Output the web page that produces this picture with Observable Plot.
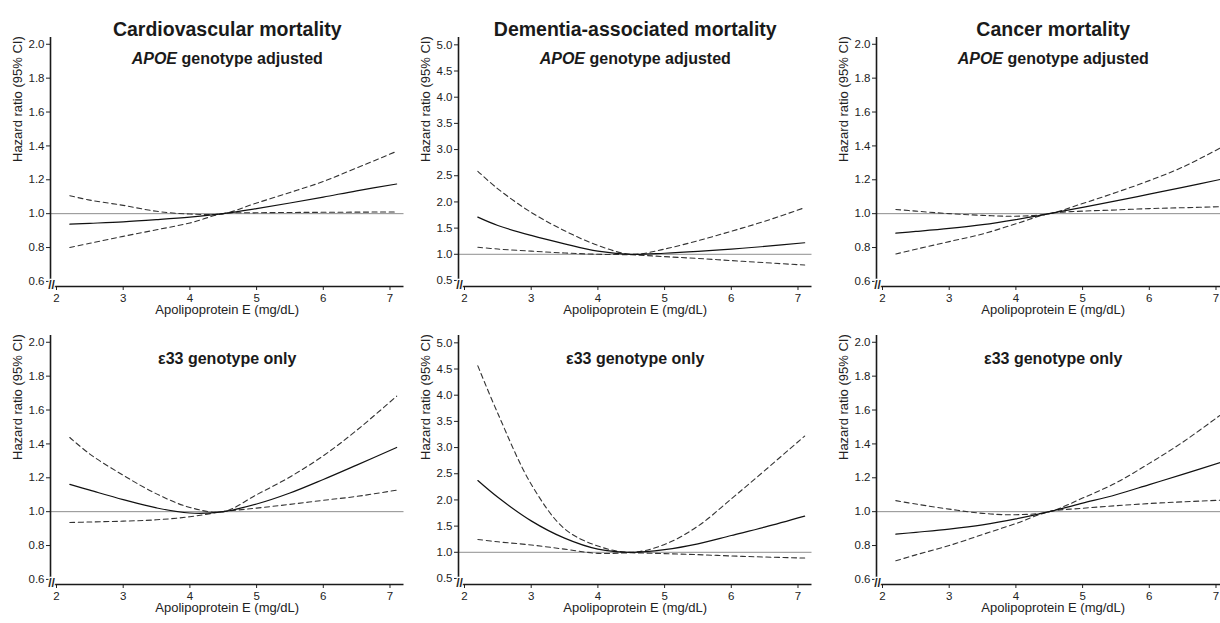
<!DOCTYPE html>
<html>
<head>
<meta charset="utf-8">
<script src="https://cdn.jsdelivr.net/npm/d3@7"></script>
<script src="https://cdn.jsdelivr.net/npm/@observablehq/plot@0.6"></script>
<style>
  html, body { margin: 0; padding: 0; background: #fff; }
  body { width: 1220px; height: 623px; overflow: hidden; position: relative;
         font-family: "Liberation Sans", Arial, sans-serif; }
  .panel { position: absolute; width: 410px; height: 322px; }
  .panel svg { overflow: visible; max-width: none !important; width: 410px !important; height: 322px !important; }
</style>
</head>
<body>
<div id="root"></div>
<script>
// ---------- data ----------
const apoE = [2.2, 2.5, 3, 3.5, 4, 4.5, 5, 5.5, 6, 6.5, 7.1];

// Cardiovascular mortality, APOE genotype adjusted
const cvAdjHR = [0.938, 0.943, 0.952, 0.965, 0.980, 1.0, 1.030, 1.063, 1.098, 1.135, 1.175];
const cvAdjLo = [0.800, 0.825, 0.866, 0.905, 0.945, 1.0, 1.005, 1.007, 1.008, 1.009, 1.010];
const cvAdjHi = [1.106, 1.080, 1.049, 1.014, 0.998, 1.0, 1.063, 1.125, 1.190, 1.270, 1.368];

// Dementia-associated mortality, APOE genotype adjusted
const demAdjHR = [1.71, 1.55, 1.36, 1.20, 1.06, 1.0, 1.02, 1.055, 1.10, 1.15, 1.22];
const demAdjLo = [1.135, 1.10, 1.06, 1.025, 1.0, 0.99, 0.955, 0.92, 0.88, 0.84, 0.795];
const demAdjHi = [2.585, 2.25, 1.80, 1.45, 1.17, 1.0, 1.10, 1.26, 1.44, 1.63, 1.89];

// Cancer mortality, APOE genotype adjusted
const canAdjHR = [0.885, 0.895, 0.913, 0.935, 0.965, 1.0, 1.037, 1.075, 1.115, 1.155, 1.205];
const canAdjLo = [0.762, 0.790, 0.835, 0.880, 0.940, 1.0, 1.015, 1.022, 1.030, 1.035, 1.042];
const canAdjHi = [1.025, 1.015, 1.000, 0.990, 0.985, 1.0, 1.060, 1.125, 1.195, 1.275, 1.395];

// Cardiovascular mortality, e33 genotype only
const cv33HR = [1.161, 1.127, 1.071, 1.022, 0.992, 1.0, 1.045, 1.110, 1.190, 1.275, 1.379];
const cv33Lo = [0.936, 0.939, 0.944, 0.952, 0.970, 1.0, 1.021, 1.043, 1.067, 1.090, 1.127];
const cv33Hi = [1.438, 1.340, 1.215, 1.105, 1.025, 1.0, 1.100, 1.205, 1.330, 1.480, 1.682];

// Dementia-associated mortality, e33 genotype only
const dem33HR = [2.37, 2.05, 1.60, 1.27, 1.06, 1.0, 1.05, 1.16, 1.32, 1.48, 1.69];
const dem33Lo = [1.245, 1.20, 1.14, 1.06, 0.98, 0.99, 0.975, 0.955, 0.93, 0.91, 0.89];
const dem33Hi = [4.56, 3.65, 2.30, 1.45, 1.12, 1.0, 1.15, 1.50, 2.02, 2.56, 3.22];

// Cancer mortality, e33 genotype only
const can33HR = [0.867, 0.878, 0.897, 0.922, 0.957, 1.0, 1.050, 1.100, 1.160, 1.220, 1.295];
const can33Lo = [0.710, 0.745, 0.800, 0.865, 0.930, 1.0, 1.020, 1.035, 1.048, 1.058, 1.068];
const can33Hi = [1.065, 1.045, 1.015, 0.990, 0.982, 1.0, 1.080, 1.170, 1.285, 1.410, 1.580];

const colTitles = ["Cardiovascular mortality", "Dementia-associated mortality", "Cancer mortality"];
const rowSubtitles = ["APOE genotype adjusted", "ε33 genotype only"];
const xTicks = [2, 3, 4, 5, 6, 7];
const yTicksNarrow = [0.6, 0.8, 1.0, 1.2, 1.4, 1.6, 1.8, 2.0];
const yTicksWide = [0.5, 1.0, 1.5, 2.0, 2.5, 3.0, 3.5, 4.0, 4.5, 5.0];
const yDomainNarrow = [0.57, 2.04];
const yDomainWide = [0.385, 5.14];
const xDomain = [1.91, 7.21];
const xLabel = "Apolipoprotein E (mg/dL)";
const yLabel = "Hazard ratio (95% CI)";
const refHR = [1];

// ---------- layout ----------
const colLeft = [0, 408, 826];
const rowTop = [0, 298];

const panels = [
  {row: 0, col: 0, hr: cvAdjHR, lo: cvAdjLo, hi: cvAdjHi, wide: false},
  {row: 0, col: 1, hr: demAdjHR, lo: demAdjLo, hi: demAdjHi, wide: true},
  {row: 0, col: 2, hr: canAdjHR, lo: canAdjLo, hi: canAdjHi, wide: false},
  {row: 1, col: 0, hr: cv33HR, lo: cv33Lo, hi: cv33Hi, wide: false},
  {row: 1, col: 1, hr: dem33HR, lo: dem33Lo, hi: dem33Hi, wide: true},
  {row: 1, col: 2, hr: can33HR, lo: can33Lo, hi: can33Hi, wide: false}
];

const toRows = arr => apoE.map((x, i) => ({x, y: arr[i]}));
const font = "Liberation Sans, Arial, sans-serif";

for (const p of panels) {
  const yDomain = p.wide ? yDomainWide : yDomainNarrow;
  const yTicks = p.wide ? yTicksWide : yTicksNarrow;
  const marks = [
    Plot.ruleY(refHR, {stroke: "#8e8e8e", strokeWidth: 1}),
    Plot.line(toRows(p.lo), {x: "x", y: "y", stroke: "#333", strokeWidth: 1.1, strokeDasharray: "5,3.5", curve: "catmull-rom"}),
    Plot.line(toRows(p.hi), {x: "x", y: "y", stroke: "#333", strokeWidth: 1.1, strokeDasharray: "5,3.5", curve: "catmull-rom"}),
    Plot.line(toRows(p.hr), {x: "x", y: "y", stroke: "#111", strokeWidth: 1.2, curve: "catmull-rom"}),
    Plot.axisX({ticks: xTicks, tickFormat: d3.format("d"), tickSize: 4, tickPadding: 3, label: null, fontSize: 11.5, stroke: "#222"}),
    Plot.axisY({ticks: yTicks, tickFormat: d3.format(".1f"), tickSize: 4, tickPadding: 2, label: null, fontSize: 11.5, stroke: "#222"}),
    Plot.ruleX([xDomain[0]], {stroke: "#1a1a1a", strokeWidth: 1.6}),
    Plot.ruleY([yDomain[0]], {stroke: "#1a1a1a", strokeWidth: 1.6}),
    Plot.text(["//"], {frameAnchor: "bottom-left", textAnchor: "middle", lineAnchor: "middle",
      fontSize: 12, fontWeight: "bold", fill: "#222", stroke: "white", strokeWidth: 2.5, dx: 1, dy: -1}),
    Plot.text([xLabel], {frameAnchor: "bottom", dy: 27, fontSize: 13, fill: "#222"}),
    Plot.text([yLabel], {frameAnchor: "left", rotate: -90, dx: -33, fontSize: 13, fill: "#222"}),
    Plot.text([rowSubtitles[p.row]], {frameAnchor: "top", dy: p.row === 0 ? 15 : 17, fontSize: 16, fontWeight: "bold", fill: "#1a1a1a"})
  ];
  if (p.row === 0) {
    marks.push(Plot.text([colTitles[p.col]], {frameAnchor: "top", dy: -15, fontSize: 19.5, fontWeight: "bold", fill: "#1a1a1a"}));
  }
  const svg = Plot.plot({
    width: 410, height: 322,
    marginLeft: 50, marginRight: 6.5, marginTop: 37, marginBottom: 36,
    style: {fontFamily: font, fontSize: "11.5px", color: "#222", background: "transparent", overflow: "visible", maxWidth: "none"},
    x: {domain: xDomain},
    y: {domain: yDomain},
    marks
  });
  // italicise the gene symbol in the subtitle
  d3.select(svg).selectAll("text").each(function () {
    if (this.textContent === "APOE genotype adjusted") {
      const t = d3.select(this);
      t.text(null);
      t.append("tspan").attr("font-style", "italic").text("APOE");
      t.append("tspan").text(" genotype adjusted");
    }
  });
  const div = document.createElement("div");
  div.className = "panel";
  div.style.left = colLeft[p.col] + "px";
  div.style.top = rowTop[p.row] + "px";
  div.appendChild(svg);
  document.getElementById("root").appendChild(div);
}
</script>
</body>
</html>
